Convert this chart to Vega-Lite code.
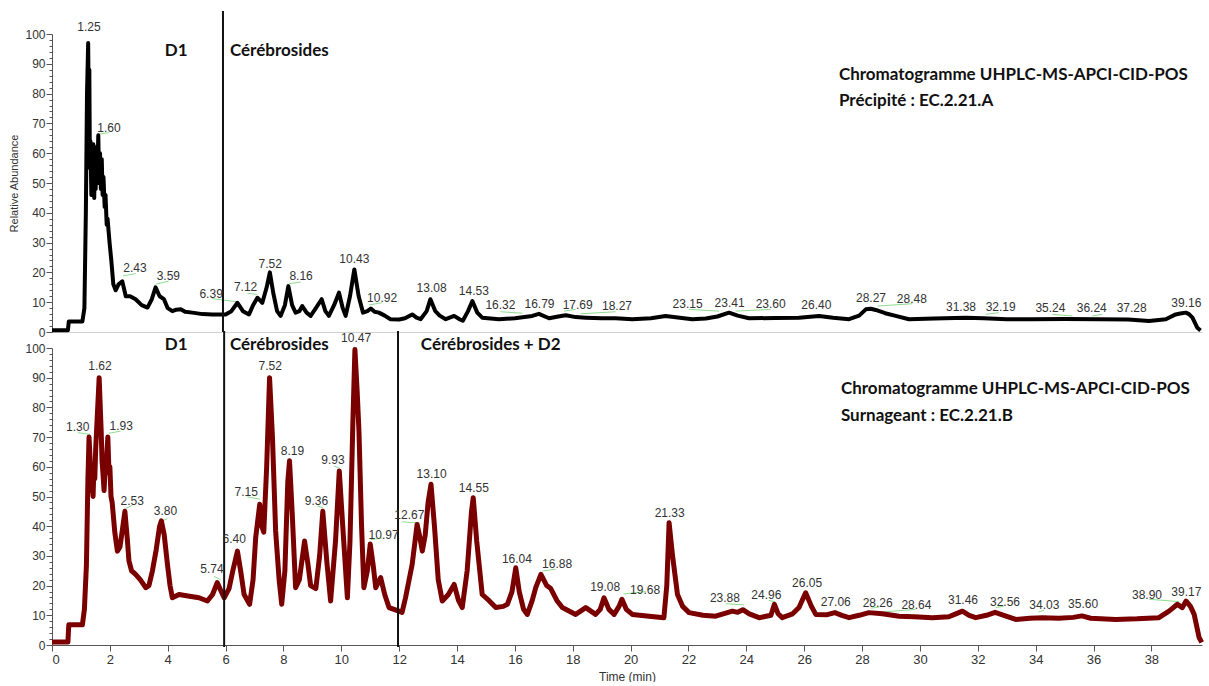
{
"$schema": "https://vega.github.io/schema/vega-lite/v6.json",
"padding": {"left": 8, "top": 10, "right": 2, "bottom": 0},
"background": "white",
"spacing": 16,
"bounds": "flush",
"config": {"view": {"stroke": null}, "font": "Liberation Sans", "axis": {"grid": false, "domainColor": "#555", "tickColor": "#555", "labelColor": "#333", "labelFont": "Liberation Sans", "labelFontSize": 12, "titleFont": "Liberation Sans", "titleFontWeight": "normal", "titleColor": "#333"}},
"datasets": {
"top": [{"t":0,"v":0.6},{"t":0.55,"v":0.6},{"t":0.58,"v":3.5},{"t":1.05,"v":3.5},{"t":1.12,"v":8},{"t":1.17,"v":40},{"t":1.21,"v":80},{"t":1.25,"v":97},{"t":1.27,"v":75},{"t":1.29,"v":88},{"t":1.31,"v":55},{"t":1.33,"v":64},{"t":1.36,"v":46},{"t":1.38,"v":62},{"t":1.41,"v":47},{"t":1.43,"v":63},{"t":1.46,"v":45},{"t":1.48,"v":60},{"t":1.51,"v":48},{"t":1.53,"v":62},{"t":1.56,"v":50},{"t":1.6,"v":66},{"t":1.63,"v":50},{"t":1.66,"v":60},{"t":1.69,"v":48},{"t":1.72,"v":58},{"t":1.75,"v":46},{"t":1.78,"v":52},{"t":1.82,"v":42},{"t":1.85,"v":46},{"t":1.89,"v":36},{"t":1.92,"v":38},{"t":1.99,"v":30},{"t":2.05,"v":24},{"t":2.12,"v":16},{"t":2.2,"v":14},{"t":2.3,"v":16},{"t":2.43,"v":17},{"t":2.55,"v":12},{"t":2.7,"v":12},{"t":2.89,"v":11},{"t":3.1,"v":9},{"t":3.3,"v":8.2},{"t":3.45,"v":11},{"t":3.58,"v":15},{"t":3.72,"v":12},{"t":3.87,"v":11},{"t":4.0,"v":8},{"t":4.16,"v":7},{"t":4.3,"v":7.5},{"t":4.45,"v":7.6},{"t":4.6,"v":6.8},{"t":4.85,"v":6.5},{"t":5.2,"v":6},{"t":5.54,"v":5.9},{"t":6.0,"v":5.9},{"t":6.2,"v":7},{"t":6.41,"v":9.8},{"t":6.6,"v":7},{"t":6.81,"v":5.9},{"t":6.95,"v":9},{"t":7.1,"v":11.5},{"t":7.27,"v":9.8},{"t":7.42,"v":15},{"t":7.53,"v":20},{"t":7.65,"v":13},{"t":7.78,"v":7},{"t":7.9,"v":5.4},{"t":8.05,"v":9},{"t":8.17,"v":15.4},{"t":8.3,"v":9},{"t":8.42,"v":6.5},{"t":8.55,"v":7},{"t":8.65,"v":8.7},{"t":8.8,"v":6.5},{"t":8.94,"v":5.4},{"t":9.12,"v":8},{"t":9.32,"v":11},{"t":9.45,"v":7},{"t":9.57,"v":5.4},{"t":9.75,"v":9},{"t":9.92,"v":13.2},{"t":10.05,"v":8},{"t":10.15,"v":5.4},{"t":10.3,"v":12},{"t":10.45,"v":21},{"t":10.6,"v":12},{"t":10.75,"v":6.5},{"t":10.9,"v":7},{"t":11.02,"v":7.9},{"t":11.15,"v":6.8},{"t":11.3,"v":6.5},{"t":11.5,"v":5.5},{"t":11.7,"v":4.3},{"t":12.0,"v":4.2},{"t":12.2,"v":4.6},{"t":12.45,"v":5.9},{"t":12.6,"v":4.8},{"t":12.74,"v":4.3},{"t":12.95,"v":7},{"t":13.08,"v":11},{"t":13.25,"v":7},{"t":13.4,"v":5.5},{"t":13.61,"v":4.3},{"t":13.9,"v":5.4},{"t":14.1,"v":4.2},{"t":14.2,"v":3.8},{"t":14.38,"v":7},{"t":14.53,"v":10.4},{"t":14.7,"v":6.5},{"t":14.87,"v":4.8},{"t":15.45,"v":4.3},{"t":16.0,"v":4.6},{"t":16.6,"v":5.4},{"t":16.83,"v":6.1},{"t":17.18,"v":4.6},{"t":17.5,"v":5.2},{"t":17.76,"v":5.6},{"t":18.1,"v":5},{"t":18.45,"v":4.8},{"t":19.0,"v":4.6},{"t":19.48,"v":4.6},{"t":20.06,"v":4.3},{"t":20.7,"v":4.6},{"t":21.21,"v":5.4},{"t":21.7,"v":4.8},{"t":22.13,"v":4.3},{"t":22.6,"v":4.5},{"t":23.0,"v":5.2},{"t":23.4,"v":6.5},{"t":23.7,"v":5.5},{"t":24.09,"v":4.6},{"t":25.0,"v":4.7},{"t":25.82,"v":4.8},{"t":26.51,"v":5.4},{"t":27.0,"v":4.8},{"t":27.55,"v":4.3},{"t":27.9,"v":5.5},{"t":28.13,"v":7.6},{"t":28.3,"v":7.8},{"t":28.47,"v":7.4},{"t":28.8,"v":6.3},{"t":29.16,"v":5.4},{"t":29.62,"v":4.3},{"t":30.5,"v":4.5},{"t":31.58,"v":4.8},{"t":32.2,"v":4.6},{"t":33.0,"v":4.3},{"t":33.89,"v":4.3},{"t":35.0,"v":4.4},{"t":36.19,"v":4.3},{"t":37.2,"v":4.2},{"t":37.92,"v":3.7},{"t":38.5,"v":4.3},{"t":38.84,"v":5.9},{"t":39.0,"v":6.2},{"t":39.19,"v":6.5},{"t":39.3,"v":6},{"t":39.42,"v":4.8},{"t":39.59,"v":1.4},{"t":39.7,"v":0.5}],
"bottom": [{"t":0,"v":1},{"t":0.55,"v":1},{"t":0.58,"v":6.8},{"t":1.05,"v":6.8},{"t":1.12,"v":12},{"t":1.19,"v":27},{"t":1.24,"v":55},{"t":1.28,"v":70},{"t":1.33,"v":60},{"t":1.36,"v":52},{"t":1.39,"v":56},{"t":1.42,"v":50},{"t":1.45,"v":60},{"t":1.48,"v":56},{"t":1.51,"v":66},{"t":1.57,"v":78},{"t":1.63,"v":90},{"t":1.7,"v":72},{"t":1.73,"v":62},{"t":1.76,"v":58},{"t":1.8,"v":52},{"t":1.83,"v":58},{"t":1.87,"v":60},{"t":1.93,"v":70},{"t":1.97,"v":58},{"t":2.0,"v":60},{"t":2.04,"v":50},{"t":2.08,"v":48},{"t":2.17,"v":38},{"t":2.26,"v":31.6},{"t":2.35,"v":33},{"t":2.45,"v":40},{"t":2.52,"v":45},{"t":2.6,"v":36},{"t":2.66,"v":28.3},{"t":2.75,"v":25},{"t":2.89,"v":23.8},{"t":3.05,"v":22},{"t":3.24,"v":19.3},{"t":3.35,"v":20},{"t":3.47,"v":24.9},{"t":3.6,"v":32},{"t":3.72,"v":40},{"t":3.78,"v":41.8},{"t":3.88,"v":37},{"t":3.99,"v":27.2},{"t":4.08,"v":20},{"t":4.16,"v":15.9},{"t":4.39,"v":17},{"t":4.7,"v":16.5},{"t":5.08,"v":15.9},{"t":5.37,"v":14.8},{"t":5.55,"v":17},{"t":5.71,"v":21},{"t":5.85,"v":18},{"t":5.95,"v":15.9},{"t":6.12,"v":19},{"t":6.25,"v":25},{"t":6.41,"v":31.6},{"t":6.52,"v":25},{"t":6.64,"v":17},{"t":6.83,"v":13.7},{"t":6.95,"v":22},{"t":7.04,"v":36.1},{"t":7.18,"v":47.4},{"t":7.25,"v":40},{"t":7.32,"v":38},{"t":7.42,"v":60},{"t":7.52,"v":90},{"t":7.62,"v":70},{"t":7.73,"v":38.4},{"t":7.85,"v":22},{"t":7.94,"v":13.7},{"t":8.05,"v":25},{"t":8.15,"v":55},{"t":8.21,"v":62},{"t":8.3,"v":45},{"t":8.42,"v":19.3},{"t":8.55,"v":22},{"t":8.73,"v":35},{"t":8.85,"v":27},{"t":8.94,"v":20},{"t":9.12,"v":19},{"t":9.25,"v":30},{"t":9.36,"v":45},{"t":9.5,"v":28},{"t":9.63,"v":14.8},{"t":9.8,"v":35},{"t":9.93,"v":58.6},{"t":10.05,"v":40},{"t":10.21,"v":15.9},{"t":10.3,"v":35},{"t":10.4,"v":75},{"t":10.47,"v":99.5},{"t":10.55,"v":85},{"t":10.61,"v":72},{"t":10.7,"v":40},{"t":10.78,"v":19.3},{"t":10.9,"v":25},{"t":11.0,"v":34},{"t":11.1,"v":27},{"t":11.19,"v":19.3},{"t":11.36,"v":22.7},{"t":11.5,"v":17},{"t":11.65,"v":12.6},{"t":11.99,"v":11.4},{"t":12.1,"v":11},{"t":12.22,"v":15.9},{"t":12.45,"v":27.2},{"t":12.62,"v":40.6},{"t":12.7,"v":37},{"t":12.8,"v":31.6},{"t":12.9,"v":37},{"t":13.0,"v":48},{"t":13.1,"v":54.1},{"t":13.22,"v":40},{"t":13.35,"v":22},{"t":13.49,"v":14.8},{"t":13.7,"v":17},{"t":13.9,"v":20.4},{"t":14.05,"v":15},{"t":14.18,"v":12.6},{"t":14.35,"v":25},{"t":14.5,"v":45},{"t":14.56,"v":49.6},{"t":14.68,"v":35},{"t":14.87,"v":17},{"t":15.1,"v":15},{"t":15.34,"v":12.6},{"t":15.6,"v":13},{"t":15.74,"v":13.7},{"t":15.9,"v":18},{"t":16.03,"v":26},{"t":16.15,"v":18},{"t":16.3,"v":12},{"t":16.43,"v":10.3},{"t":16.6,"v":15},{"t":16.72,"v":19.3},{"t":16.9,"v":23.8},{"t":17.1,"v":20},{"t":17.24,"v":19},{"t":17.45,"v":15},{"t":17.64,"v":12.6},{"t":18.1,"v":10.3},{"t":18.45,"v":12.6},{"t":18.79,"v":10.3},{"t":18.95,"v":12},{"t":19.08,"v":15.9},{"t":19.25,"v":12},{"t":19.43,"v":10.3},{"t":19.6,"v":13},{"t":19.7,"v":15.4},{"t":19.85,"v":12},{"t":20.06,"v":10.3},{"t":20.64,"v":9.7},{"t":21.15,"v":9.2},{"t":21.25,"v":20},{"t":21.33,"v":41.2},{"t":21.45,"v":30},{"t":21.62,"v":17},{"t":21.8,"v":13},{"t":22.02,"v":10.9},{"t":22.5,"v":10},{"t":22.94,"v":9.7},{"t":23.52,"v":11.4},{"t":23.7,"v":11},{"t":23.88,"v":11.9},{"t":24.1,"v":10.5},{"t":24.44,"v":9.2},{"t":24.85,"v":10},{"t":24.97,"v":13.7},{"t":25.1,"v":10.5},{"t":25.24,"v":9.2},{"t":25.6,"v":10.5},{"t":25.82,"v":12.6},{"t":26.05,"v":17.6},{"t":26.25,"v":13},{"t":26.4,"v":10.3},{"t":26.8,"v":10.2},{"t":27.06,"v":10.9},{"t":27.3,"v":10},{"t":27.55,"v":9.2},{"t":27.9,"v":10},{"t":28.24,"v":10.9},{"t":28.7,"v":10.5},{"t":29.28,"v":9.7},{"t":29.8,"v":9.5},{"t":30.43,"v":9.2},{"t":31.0,"v":9.5},{"t":31.2,"v":10.3},{"t":31.47,"v":11.4},{"t":31.7,"v":10},{"t":31.93,"v":9.2},{"t":32.3,"v":10},{"t":32.6,"v":11},{"t":32.9,"v":10},{"t":33.31,"v":8.6},{"t":33.8,"v":9},{"t":34.23,"v":9.2},{"t":34.8,"v":9},{"t":35.3,"v":9.3},{"t":35.6,"v":9.8},{"t":35.9,"v":9},{"t":36.77,"v":8.6},{"t":37.5,"v":8.8},{"t":38.26,"v":9.2},{"t":38.61,"v":11.4},{"t":38.9,"v":13.7},{"t":39.07,"v":12.6},{"t":39.2,"v":14.8},{"t":39.35,"v":13},{"t":39.48,"v":10.3},{"t":39.65,"v":2.5},{"t":39.74,"v":0.9}],
"topLabels": [{"label":"1.25","t":1.28,"v":102.3},{"label":"1.60","t":1.97,"v":68.6},{"label":"2.43","t":2.87,"v":21.6},{"label":"3.59","t":4.02,"v":18.8},{"label":"6.39","t":5.5,"v":12.6},{"label":"7.12","t":6.69,"v":15.1},{"label":"7.52","t":7.54,"v":22.9},{"label":"8.16","t":8.61,"v":18.7},{"label":"10.43","t":10.45,"v":24.4},{"label":"10.92","t":11.41,"v":11.3},{"label":"13.08","t":13.12,"v":14.7},{"label":"14.53","t":14.58,"v":13.8},{"label":"16.32","t":15.5,"v":9.1},{"label":"16.79","t":16.85,"v":9.5},{"label":"17.69","t":18.17,"v":9.1},{"label":"18.27","t":19.53,"v":8.7},{"label":"23.15","t":21.97,"v":9.3},{"label":"23.41","t":23.42,"v":9.8},{"label":"23.60","t":24.84,"v":9.3},{"label":"26.40","t":26.42,"v":9.1},{"label":"28.27","t":28.31,"v":11.5},{"label":"28.48","t":29.72,"v":11},{"label":"31.38","t":31.42,"v":8.4},{"label":"32.19","t":32.79,"v":8.4},{"label":"35.24","t":34.51,"v":7.9},{"label":"36.24","t":35.94,"v":7.9},{"label":"37.28","t":37.32,"v":7.9},{"label":"39.16","t":39.21,"v":9.8}],
"bottomLabels": [{"label":"1.30","t":0.89,"v":73.4},{"label":"1.62","t":1.66,"v":93.9},{"label":"1.93","t":2.39,"v":73.7},{"label":"2.53","t":2.77,"v":48.5},{"label":"3.80","t":3.92,"v":45.1},{"label":"5.74","t":5.53,"v":25.5},{"label":"6.40","t":6.3,"v":35.6},{"label":"7.15","t":6.71,"v":51.6},{"label":"7.52","t":7.54,"v":93.9},{"label":"8.19","t":8.31,"v":65.3},{"label":"9.36","t":9.14,"v":48.5},{"label":"9.93","t":9.71,"v":62.2},{"label":"10.47","t":10.51,"v":103.3},{"label":"10.97","t":11.46,"v":37},{"label":"12.67","t":12.35,"v":43.7},{"label":"13.10","t":13.12,"v":57.5},{"label":"14.55","t":14.58,"v":53},{"label":"16.04","t":16.07,"v":28.8},{"label":"16.88","t":17.46,"v":27.2},{"label":"19.08","t":19.12,"v":19.5},{"label":"19.68","t":20.5,"v":18.6},{"label":"21.33","t":21.35,"v":44.5},{"label":"23.88","t":23.26,"v":15.9},{"label":"24.96","t":24.69,"v":16.8},{"label":"26.05","t":26.1,"v":20.8},{"label":"27.06","t":27.09,"v":14.6},{"label":"28.26","t":28.54,"v":14.2},{"label":"28.64","t":29.88,"v":13.5},{"label":"31.46","t":31.49,"v":15},{"label":"32.56","t":32.94,"v":14.6},{"label":"34.03","t":34.3,"v":13.5},{"label":"35.60","t":35.64,"v":13.7},{"label":"38.90","t":37.85,"v":17},{"label":"39.17","t":39.21,"v":17.8}],
"topLinks": [{"t1":1.57,"v1":66.3,"t2":1.97,"v2":66.9},{"t1":2.45,"v1":18.8,"t2":2.89,"v2":19.6},{"t1":3.58,"v1":16,"t2":4.04,"v2":17.1},{"t1":5.54,"v1":11.2,"t2":6.41,"v2":10.1},{"t1":6.75,"v1":13,"t2":7.1,"v2":12.6},{"t1":8.19,"v1":16.2,"t2":8.6,"v2":16.8},{"t1":10.96,"v1":9.1,"t2":11.4,"v2":9.8},{"t1":15.51,"v1":6.8,"t2":16.26,"v2":6.3},{"t1":17.7,"v1":7,"t2":18.1,"v2":7.6},{"t1":18.27,"v1":6.1,"t2":19.48,"v2":6.8},{"t1":22.02,"v1":7.6,"t2":23.06,"v2":7},{"t1":23.63,"v1":7,"t2":24.84,"v2":7.6},{"t1":28.53,"v1":8.7,"t2":29.74,"v2":9.5},{"t1":32.27,"v1":5.9,"t2":32.73,"v2":6.5},{"t1":34.58,"v1":5.9,"t2":35.27,"v2":5.4},{"t1":35.96,"v1":5.4,"t2":36.3,"v2":5.9}],
"bottomLinks": [{"t1":0.9,"v1":71.5,"t2":1.31,"v2":70.9},{"t1":1.96,"v1":71.3,"t2":2.37,"v2":72},{"t1":2.55,"v1":46,"t2":2.76,"v2":47},{"t1":3.76,"v1":41.5,"t2":3.99,"v2":42.6},{"t1":5.6,"v1":23.1,"t2":5.83,"v2":22},{"t1":6.75,"v1":49.9,"t2":7.19,"v2":49.1},{"t1":9.17,"v1":46.8,"t2":9.37,"v2":46.2},{"t1":9.75,"v1":60.3,"t2":9.94,"v2":59.5},{"t1":11.02,"v1":35.5,"t2":11.42,"v2":36},{"t1":12.1,"v1":41.5,"t2":12.71,"v2":41},{"t1":16.95,"v1":24.9,"t2":17.41,"v2":25.5},{"t1":19.76,"v1":17.2,"t2":20.52,"v2":18},{"t1":23.29,"v1":13.9,"t2":23.92,"v2":13.5},{"t1":24.78,"v1":15,"t2":25.01,"v2":14.5},{"t1":28.3,"v1":12.4,"t2":28.59,"v2":12.8},{"t1":28.7,"v1":11.1,"t2":29.85,"v2":12},{"t1":32.62,"v1":12.6,"t2":32.91,"v2":13.1},{"t1":34.09,"v1":11.1,"t2":34.29,"v2":11.7},{"t1":37.92,"v1":15.4,"t2":38.96,"v2":14.6}],
"topRules": [{"t":5.91,"y0":0,"y1":107.7}],
"bottomRules": [{"t":5.95,"y0":-0.7,"y1":105.7},{"t":11.96,"y0":-0.7,"y1":105.7}],
"topNotes": [{"text":"D1","t":3.9,"v":94.3},{"text":"Cérébrosides","t":6.15,"v":94.3},{"text":"Chromatogramme UHPLC-MS-APCI-CID-POS","t":27.2,"v":86.2},{"text":"Précipité : EC.2.21.A","t":27.2,"v":77.5}],
"bottomNotes": [{"text":"D1","t":3.9,"v":101},{"text":"Cérébrosides","t":6.15,"v":101},{"text":"Cérébrosides + D2","t":12.75,"v":101},{"text":"Chromatogramme UHPLC-MS-APCI-CID-POS","t":27.27,"v":86.2},{"text":"Surnageant : EC.2.21.B","t":27.27,"v":77.1}]
},
"vconcat": [
{"width": 1150, "height": 298,
 "resolve": {"axis": {"y": "independent"}},
 "layer": [
  {"data": {"name": "topLinks"}, "mark": {"type": "rule", "color": "#8edc8e", "strokeWidth": 1},
   "encoding": {"x": {"field": "t1", "type": "quantitative", "scale": {"domain": [0, 39.75], "nice": false, "zero": false}, "axis": {"labels": false, "ticks": false, "title": null, "domainColor": "#d0d0d0"}}, "y": {"field": "v1", "type": "quantitative", "scale": {"domain": [0, 100], "nice": false}, "axis": {"orient": "left", "title": "Relative Abundance", "titleFontSize": 11, "titlePadding": 5, "values": [0,10,20,30,40,50,60,70,80,90,100], "labelPadding": 1, "tickSize": 6}}, "x2": {"field": "t2"}, "y2": {"field": "v2"}}},
  {"data": {"name": "top"}, "mark": {"type": "line", "color": "#000000", "strokeWidth": 4, "strokeJoin": "round"},
   "encoding": {
    "x": {"field": "t", "type": "quantitative"},
    "y": {"field": "v", "type": "quantitative", "axis": null}
   }},
  {"data": {"name": "topRules"}, "mark": {"type": "rule", "color": "#111", "strokeWidth": 2},
   "encoding": {"x": {"field": "t", "type": "quantitative"}, "y": {"field": "y0", "type": "quantitative", "axis": {"orient": "left", "title": null, "labels": false, "domain": false, "tickSize": 3, "values": [2,4,6,8,12,14,16,18,22,24,26,28,32,34,36,38,42,44,46,48,52,54,56,58,62,64,66,68,72,74,76,78,82,84,86,88,92,94,96,98]}}, "y2": {"field": "y1"}}},
  {"data": {"name": "topLabels"}, "mark": {"type": "text", "font": "Liberation Sans", "fontSize": 12, "color": "#333", "align": "center", "baseline": "middle"},
   "encoding": {"x": {"field": "t", "type": "quantitative"}, "y": {"field": "v", "type": "quantitative", "axis": null}, "text": {"field": "label"}}},
  {"data": {"name": "topNotes"}, "mark": {"type": "text", "font": "Lato", "fontWeight": "bold", "fontSize": 17, "color": "#111", "align": "left", "baseline": "middle"},
   "encoding": {"x": {"field": "t", "type": "quantitative"}, "y": {"field": "v", "type": "quantitative", "axis": null}, "text": {"field": "text"}}}
 ]},
{"width": 1150, "height": 297,
 "resolve": {"axis": {"y": "independent"}},
 "layer": [
  {"data": {"name": "bottomLinks"}, "mark": {"type": "rule", "color": "#8edc8e", "strokeWidth": 1},
   "encoding": {
    "x": {"field": "t1", "type": "quantitative", "scale": {"domain": [0, 39.75], "nice": false, "zero": false}, "axis": {"title": "Time (min)", "titleFontSize": 12, "titlePadding": 5, "labelFontSize": 13, "values": [0,0.5,1,1.5,2,2.5,3,3.5,4,4.5,5,5.5,6,6.5,7,7.5,8,8.5,9,9.5,10,10.5,11,11.5,12,12.5,13,13.5,14,14.5,15,15.5,16,16.5,17,17.5,18,18.5,19,19.5,20,20.5,21,21.5,22,22.5,23,23.5,24,24.5,25,25.5,26,26.5,27,27.5,28,28.5,29,29.5,30,30.5,31,31.5,32,32.5,33,33.5,34,34.5,35,35.5,36,36.5,37,37.5,38,38.5,39,39.5], "labelExpr": "datum.value % 2 === 0 ? datum.label : ''", "labelOverlap": false, "tickSize": {"condition": {"test": "datum.value % 2 === 0", "value": 6}, "value": 4}}},
    "y": {"field": "v1", "type": "quantitative", "scale": {"domain": [0, 100], "nice": false}, "axis": {"orient": "left", "title": null, "values": [0,10,20,30,40,50,60,70,80,90,100], "labelPadding": 1, "tickSize": 6}},
    "x2": {"field": "t2"}, "y2": {"field": "v2"}
   }},
  {"data": {"name": "bottom"}, "mark": {"type": "line", "color": "#7a0000", "strokeWidth": 5, "strokeJoin": "round"},
   "encoding": {"x": {"field": "t", "type": "quantitative"}, "y": {"field": "v", "type": "quantitative", "axis": null}}},
  {"data": {"name": "bottomRules"}, "mark": {"type": "rule", "color": "#111", "strokeWidth": 2},
   "encoding": {"x": {"field": "t", "type": "quantitative"}, "y": {"field": "y0", "type": "quantitative", "axis": {"orient": "left", "title": null, "labels": false, "domain": false, "tickSize": 3, "values": [2,4,6,8,12,14,16,18,22,24,26,28,32,34,36,38,42,44,46,48,52,54,56,58,62,64,66,68,72,74,76,78,82,84,86,88,92,94,96,98]}}, "y2": {"field": "y1"}}},
  {"data": {"name": "bottomLabels"}, "mark": {"type": "text", "font": "Liberation Sans", "fontSize": 12, "color": "#333", "align": "center", "baseline": "middle"},
   "encoding": {"x": {"field": "t", "type": "quantitative"}, "y": {"field": "v", "type": "quantitative", "axis": null}, "text": {"field": "label"}}},
  {"data": {"name": "bottomNotes"}, "mark": {"type": "text", "font": "Lato", "fontWeight": "bold", "fontSize": 17, "color": "#111", "align": "left", "baseline": "middle"},
   "encoding": {"x": {"field": "t", "type": "quantitative"}, "y": {"field": "v", "type": "quantitative", "axis": null}, "text": {"field": "text"}}}
 ]}
]
}
